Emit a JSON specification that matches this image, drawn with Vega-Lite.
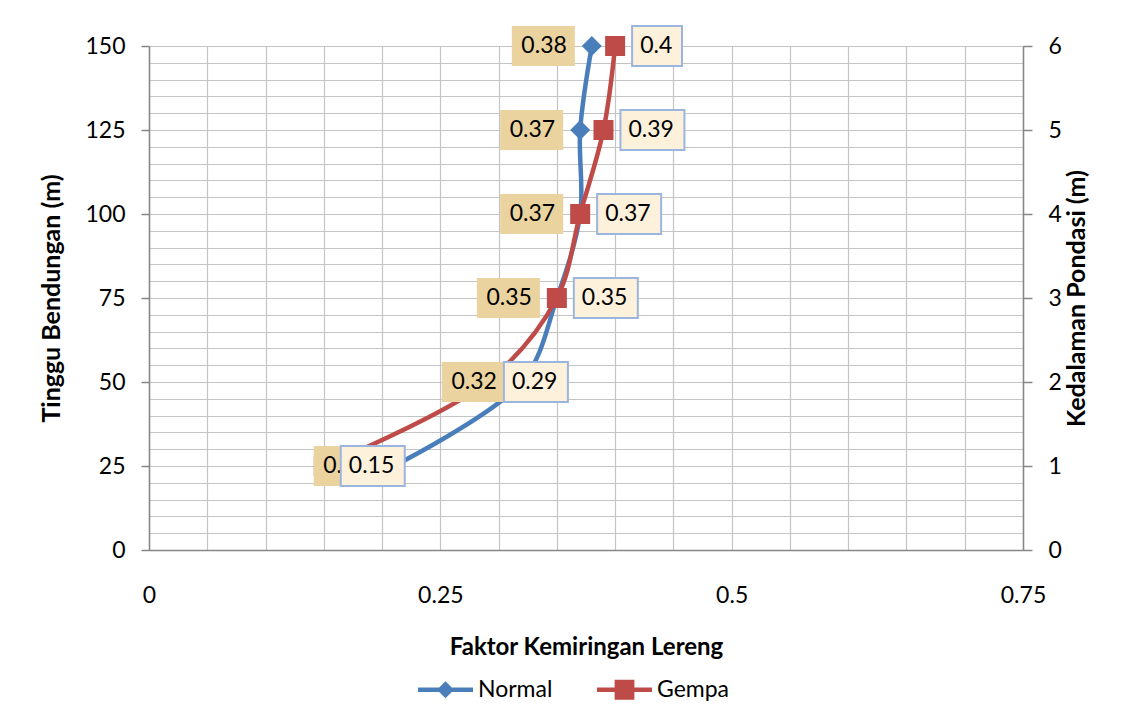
{
  "$schema": "https://vega.github.io/schema/vega-lite/v6.json",
  "width": 874,
  "height": 504,
  "autosize": {"type": "none"},
  "padding": {"left": 149, "top": 46, "right": 113, "bottom": 178},
  "background": "#ffffff",
  "config": {
    "view": {"stroke": null},
    "font": "Lato",
    "axis": {
      "labelFont": "Lato",
      "labelFontSize": 23,
      "labelColor": "#000000",
      "titleFont": "Lato",
      "titleFontSize": 25,
      "titleFontWeight": "bold",
      "titleColor": "#000000",
      "domainColor": "#868686",
      "domainWidth": 1.5,
      "tickColor": "#868686",
      "tickWidth": 1.5,
      "gridColor": "#c4c4c4",
      "gridWidth": 1.2
    },
    "legend": {"labelFont": "Lato", "labelFontSize": 23, "labelColor": "#000000"}
  },
  "data": {
    "values": [
      {"series": "Normal", "h": 150, "k": 6, "x": 0.38},
      {"series": "Normal", "h": 125, "k": 5, "x": 0.37},
      {"series": "Normal", "h": 100, "k": 4, "x": 0.37},
      {"series": "Normal", "h": 75, "k": 3, "x": 0.35},
      {"series": "Normal", "h": 50, "k": 2, "x": 0.32},
      {"series": "Normal", "h": 25, "k": 1, "x": 0.21},
      {"series": "Gempa", "h": 150, "k": 6, "x": 0.4},
      {"series": "Gempa", "h": 125, "k": 5, "x": 0.39},
      {"series": "Gempa", "h": 100, "k": 4, "x": 0.37},
      {"series": "Gempa", "h": 75, "k": 3, "x": 0.35},
      {"series": "Gempa", "h": 50, "k": 2, "x": 0.29},
      {"series": "Gempa", "h": 25, "k": 1, "x": 0.15}
    ]
  },
  "resolve": {"scale": {"y": "independent"}, "axis": {"y": "independent"}},
  "layer": [
    {
      "encoding": {
        "x": {
          "field": "x",
          "type": "quantitative",
          "scale": {"domain": [0, 0.75], "nice": false, "zero": true},
          "axis": {
            "title": "Faktor Kemiringan Lereng",
            "titleFontSize": 24,
            "values": [0, 0.05, 0.1, 0.15, 0.2, 0.25, 0.3, 0.35, 0.4, 0.45, 0.5, 0.55, 0.6, 0.65, 0.7, 0.75],
            "format": "~g",
            "labelExpr": "abs(datum.value * 4 - round(datum.value * 4)) < 1e-9 ? datum.label : ''",
            "grid": true,
            "ticks": false,
            "labelPadding": 34,
            "titlePadding": 28,
            "labelFlush": false
          }
        },
        "y": {
          "field": "h",
          "type": "quantitative",
          "scale": {"domain": [0, 150], "nice": false},
          "axis": {
            "title": "Tinggu Bendungan (m)",
            "orient": "left",
            "values": [0, 5, 10, 15, 20, 25, 30, 35, 40, 45, 50, 55, 60, 65, 70, 75, 80, 85, 90, 95, 100, 105, 110, 115, 120, 125, 130, 135, 140, 145, 150],
            "labelExpr": "datum.value % 25 === 0 ? datum.label : ''",
            "tickOpacity": {"condition": {"test": "datum.value % 25 === 0", "value": 1}, "value": 0},
            "tickSize": 8,
            "labelPadding": 16,
            "titlePadding": 20,
            "grid": true
          }
        }
      },
      "layer": [
        {
          "mark": {"type": "line", "interpolate": "catmull-rom", "strokeWidth": 4.5},
          "encoding": {
            "color": {
              "field": "series",
              "type": "nominal",
              "scale": {"domain": ["Normal", "Gempa"], "range": ["#4a7ebb", "#be4b48"]},
              "legend": {
                "title": null,
                "orient": "none",
                "legendX": 269,
                "legendY": 616,
                "direction": "horizontal",
                "symbolSize": 3025,
                "labelOffset": 5,
                "columnPadding": 44,
                "encode": {
                  "symbols": {
                    "update": {
                      "shape": {"signal": "datum.value === 'Normal' ? 'M-1,-0.08H1V0.08H-1Z M0,-0.31L0.31,0L0,0.31L-0.31,0Z' : 'M-1,-0.08H1V0.08H-1Z M-0.36,-0.36H0.36V0.36H-0.36Z'"},
                      "fill": {"signal": "datum.value === 'Normal' ? '#4a7ebb' : '#be4b48'"},
                      "fillOpacity": {"value": 1},
                      "opacity": {"value": 1},
                      "strokeWidth": {"value": 0}
                    }
                  }
                }
              }
            },
            "order": {"field": "h", "type": "quantitative"}
          }
        },
        {
          "mark": {"type": "point", "filled": true, "opacity": 1, "size": 400, "strokeWidth": 0},
          "encoding": {
            "color": {"field": "series", "type": "nominal"},
            "shape": {
              "condition": {"test": "datum.series === 'Normal'", "value": "diamond"},
              "value": "square"
            }
          }
        },
        {
          "transform": [{"filter": "datum.series === 'Normal'"}],
          "mark": {
            "type": "point",
            "filled": true,
            "opacity": 1,
            "size": 4096,
            "shape": "M-2.5,-0.625H-0.53V0.625H-2.5Z",
            "fill": "#ebd39f",
            "strokeWidth": 0
          }
        },
        {
          "transform": [{"filter": "datum.series === 'Normal'"}],
          "mark": {"type": "text", "align": "right", "baseline": "middle", "dx": -25, "font": "Lato", "fontSize": 23, "color": "#000000"},
          "encoding": {"text": {"field": "x", "type": "quantitative", "format": "~g"}}
        },
        {
          "transform": [{"filter": "datum.series === 'Gempa'"}],
          "mark": {
            "type": "point",
            "filled": true,
            "opacity": 1,
            "size": 4096,
            "fill": "#fdf1dc",
            "stroke": "#9bb5de",
            "strokeWidth": 2
          },
          "encoding": {
            "shape": {
              "condition": {"test": "length(toString(datum.x)) < 4", "value": "M0.53,-0.625H2.09V0.625H0.53Z"},
              "value": "M0.53,-0.625H2.53V0.625H0.53Z"
            }
          }
        },
        {
          "transform": [{"filter": "datum.series === 'Gempa'"}],
          "mark": {"type": "text", "align": "left", "baseline": "middle", "dx": 25, "font": "Lato", "fontSize": 23, "color": "#000000"},
          "encoding": {"text": {"field": "x", "type": "quantitative", "format": "~g"}}
        }
      ]
    },
    {
      "mark": {"type": "point", "opacity": 0},
      "encoding": {
        "x": {"field": "x", "type": "quantitative"},
        "y": {
          "field": "k",
          "type": "quantitative",
          "scale": {"domain": [0, 6], "nice": false},
          "axis": {
            "title": "Kedalaman Pondasi (m)",
            "titleAngle": 270,
            "orient": "right",
            "values": [0, 1, 2, 3, 4, 5, 6],
            "grid": false,
            "tickSize": 9,
            "labelPadding": 16,
            "titlePadding": 28
          }
        }
      }
    }
  ]
}
